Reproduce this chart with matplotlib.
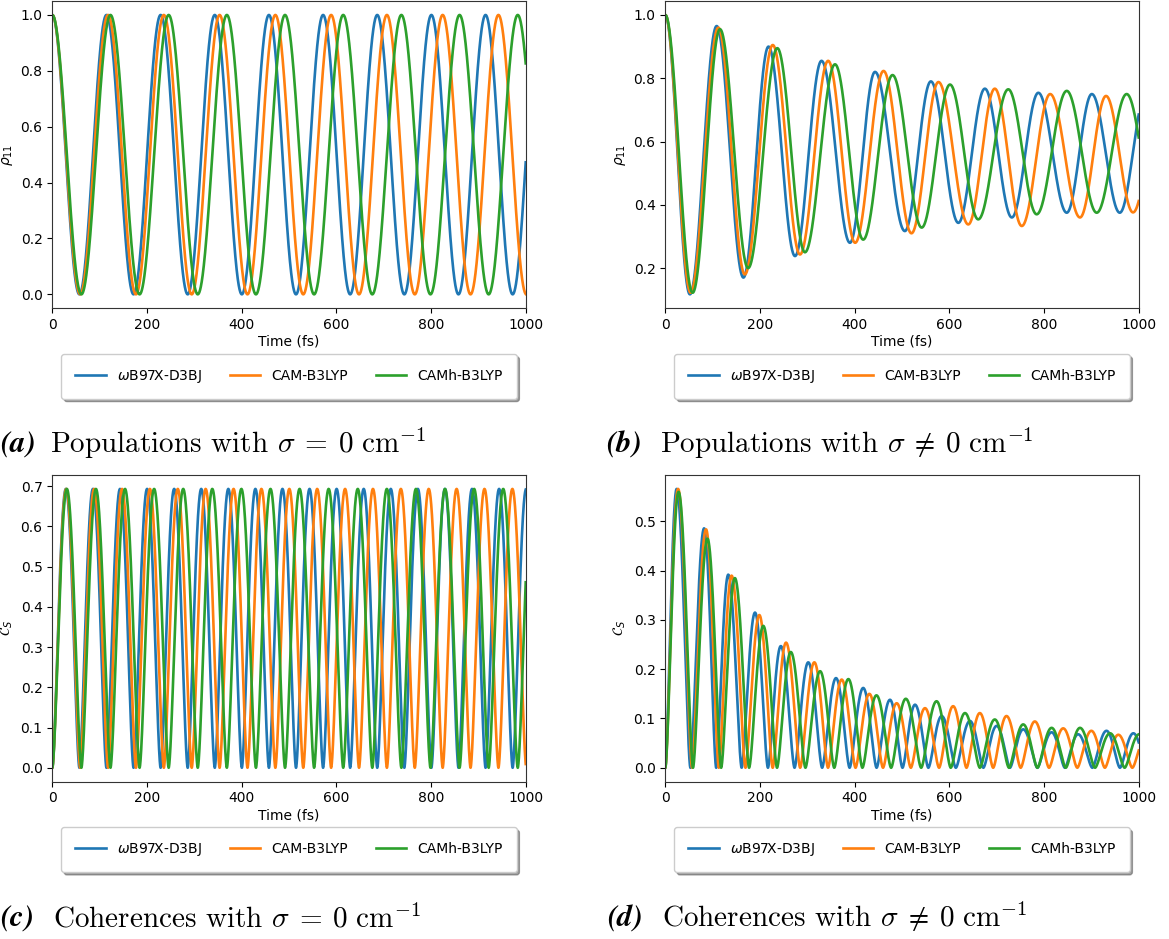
import numpy as np
import matplotlib
matplotlib.use("Agg")
import matplotlib.pyplot as plt

# functionals and their colours
labels = [r"$\omega$B97X-D3BJ", "CAM-B3LYP", "CAMh-B3LYP"]
colors = ["#1f77b4", "#ff7f0e", "#2ca02c"]

# sigma = 0: Rabi period of rho_11 (fs) for each functional
period_a = [114.4, 117.8, 122.9]

# sigma != 0: extrema of rho_11 (time in fs, value)
pop_t_b = [
    [0, 52, 108.5, 165, 218, 274, 330, 390, 443, 506, 561, 619, 675, 732, 788, 848, 901, 960, 1015],
    [0, 53.5, 112, 168, 227, 284.5, 344, 401, 461, 520, 577, 640, 696, 753, 813, 876, 931, 988, 1047],
    [0, 57.7, 115.5, 175, 236.6, 295, 358.5, 418, 480, 541.6, 601.4, 661, 724.5, 784.5, 848, 911.3, 974.6, 1036],
]
pop_v_b = [
    [1.0, 0.117, 0.965, 0.17, 0.90, 0.238, 0.855, 0.28, 0.82, 0.317, 0.79, 0.343, 0.767, 0.36, 0.754, 0.375, 0.75, 0.375, 0.75],
    [1.0, 0.122, 0.96, 0.18, 0.905, 0.243, 0.855, 0.28, 0.823, 0.31, 0.788, 0.338, 0.767, 0.333, 0.75, 0.36, 0.744, 0.376, 0.74],
    [1.0, 0.122, 0.955, 0.20, 0.895, 0.25, 0.844, 0.29, 0.81, 0.328, 0.78, 0.354, 0.765, 0.37, 0.76, 0.375, 0.75, 0.375],
]

# sigma != 0: coherence maxima (time in fs, value); minima sit at zero
coh_t_d = [
    [24, 82, 133, 189.5, 244, 302, 360.6, 418, 474.6, 527.5, 583.8, 643.6, 700, 756, 816, 872, 932, 988.7],
    [27, 86, 140, 198.6, 255, 314.8, 372.6, 431, 488.7, 548.6, 608, 664.4, 720.7, 780.6, 840.5, 900, 957, 1016],
    [28, 89, 147, 207, 265, 327, 386.7, 446, 508, 573, 633, 696, 756, 816, 876, 939.5, 1001],
]
coh_v_d = [
    [0.566, 0.486, 0.392, 0.315, 0.247, 0.214, 0.182, 0.162, 0.138, 0.128, 0.105, 0.095, 0.085, 0.078, 0.072, 0.068, 0.075, 0.07],
    [0.566, 0.484, 0.39, 0.31, 0.254, 0.214, 0.179, 0.15, 0.131, 0.121, 0.125, 0.111, 0.105, 0.094, 0.08, 0.075, 0.067, 0.065],
    [0.56, 0.465, 0.385, 0.288, 0.235, 0.196, 0.18, 0.147, 0.14, 0.135, 0.111, 0.098, 0.088, 0.081, 0.081, 0.07, 0.068],
]

captions = [
    (r"(a)", r"Populations with $\sigma\:=\:0\ \mathrm{cm}^{-1}$"),
    (r"(b)", r"Populations with $\sigma\:\neq\:0\ \mathrm{cm}^{-1}$"),
    (r"(c)", r"Coherences with $\sigma\:=\:0\ \mathrm{cm}^{-1}$"),
    (r"(d)", r"Coherences with $\sigma\:\neq\:0\ \mathrm{cm}^{-1}$"),
]

t = np.linspace(0, 1000, 5001)


def entropy(p):
    p = np.clip(p, 1e-12, 1 - 1e-12)
    return -p * np.log(p) - (1 - p) * np.log(1 - p)


def cos_shape(u):
    return (1 - np.cos(np.pi * u)) / 2


def entropy_shape(u):
    return entropy(np.cos(np.pi * u / 4) ** 2) / np.log(2)


def join_extrema(times, values, shape):
    times = np.asarray(times, float)
    values = np.asarray(values, float)
    i = np.clip(np.searchsorted(times, t, side="right") - 1, 0, len(times) - 2)
    t0, t1 = times[i], times[i + 1]
    v0, v1 = values[i], values[i + 1]
    u = np.clip((t - t0) / (t1 - t0), 0, 1)
    lo, hi = np.minimum(v0, v1), np.maximum(v0, v1)
    s = np.where(v1 >= v0, shape(u), shape(1 - u))
    return lo + (hi - lo) * s


def coherence_extrema(peak_t, peak_v):
    pt = np.asarray(peak_t, float)
    lows = np.append((pt[:-1] + pt[1:]) / 2, pt[-1] + (pt[-1] - pt[-2]) / 2)
    times, values = [0.0], [0.0]
    for a, b, v in zip(pt, lows, peak_v):
        times += [a, b]
        values += [v, 0.0]
    return times, values


fig = plt.figure(figsize=(11.69, 9.39), dpi=100)
W, H = 1169, 939

rects = [
    (52.3 / W, 1 - 308.3 / H, 473.4 / W, 307.3 / H),
    (665.3 / W, 1 - 308.3 / H, 473.4 / W, 307.3 / H),
    (52.3 / W, 1 - 781.7 / H, 473.4 / W, 306.7 / H),
    (665.3 / W, 1 - 781.7 / H, 473.4 / W, 306.7 / H),
]
axes = [fig.add_axes(r) for r in rects]

for k in range(3):
    rho = np.cos(np.pi * t / period_a[k]) ** 2
    axes[0].plot(t, rho, color=colors[k], lw=1.9, label=labels[k])
    axes[2].plot(t, entropy(rho), color=colors[k], lw=1.9, label=labels[k])

    rho_b = join_extrema(pop_t_b[k], pop_v_b[k], cos_shape)
    axes[1].plot(t, rho_b, color=colors[k], lw=1.9, label=labels[k])

    ct, cv = coherence_extrema(coh_t_d[k], coh_v_d[k])
    axes[3].plot(t, join_extrema(ct, cv, entropy_shape), color=colors[k], lw=1.9, label=labels[k])

for i, ax in enumerate(axes):
    ax.set_xlim(0, 1000)
    ax.set_xticks(range(0, 1001, 200))
    ax.tick_params(labelsize=10)
    for sp in ax.spines.values():
        sp.set_edgecolor("#333333")
    ax.set_xlabel("Time (fs)", fontsize=10, labelpad=2)
    ax.set_ylabel(r"$\rho_{11}$" if i < 2 else r"$\mathcal{C}_S$", fontsize=10)
    ax.legend(loc="upper center", bbox_to_anchor=(0.5, -45.7 / 307.3), ncol=3,
              fontsize=10, shadow=True, borderpad=1.0, borderaxespad=0,
              handlelength=2.2)

axes[2].set_yticks(np.arange(0, 0.71, 0.1))

# sub-figure captions
cap_pos = [(0, 453, 50), (606, 453, 660), (0, 927, 53), (607, 927, 662)]
for (tag, text), (x_tag, y_base, x_txt) in zip(captions, cap_pos):
    fig.text(x_tag / W, 1 - y_base / H, tag, fontsize=22, family="STIXGeneral",
             weight="bold", style="italic", va="baseline", ha="left")
    fig.text(x_txt / W, 1 - y_base / H, text, fontsize=21, family="cmr10",
             math_fontfamily="cm", va="baseline", ha="left")

fig.savefig("out.png", dpi=100)
